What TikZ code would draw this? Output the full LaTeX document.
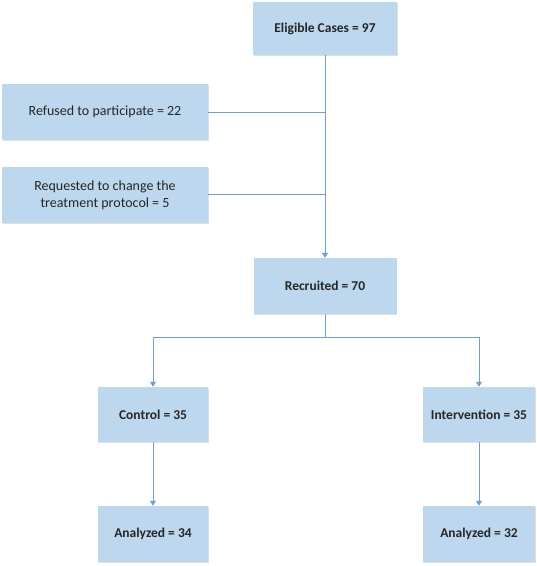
\documentclass[tikz,border=0pt]{standalone}
\usepackage{fontspec}
\setmainfont{Carlito}
\usetikzlibrary{arrows.meta,shadows}
\definecolor{boxfill}{HTML}{BDD7EE}
\definecolor{linec}{HTML}{6E9FD3}
\definecolor{txt}{HTML}{262626}
\begin{document}
\begin{tikzpicture}[x=1pt,y=-1pt,
  box/.style={draw=none,fill=boxfill,inner sep=0pt,align=center,text=txt,font=\fontsize{14}{17}\selectfont,
    drop shadow={opacity=0.25,shadow xshift=0.8pt,shadow yshift=-1.2pt,fill=gray}},
  bbox/.style={box,font=\fontsize{13.5}{16}\selectfont\bfseries},
  conn/.style={draw=linec,line width=0.8pt},
  arr/.style={conn,-{Triangle[width=6pt,length=5pt]}}]
\useasboundingbox (0,0) rectangle (537,566);
\node[bbox,minimum width=144pt,minimum height=53pt] (elig) at (325,28.5) {Eligible Cases = 97};
\node[box,minimum width=206pt,minimum height=56pt] (ref) at (105,112) {Refused to participate = 22};
\node[box,minimum width=206pt,minimum height=56pt] (req) at (105,195) {Requested to change the\\treatment protocol = 5};
\node[bbox,minimum width=143pt,minimum height=56pt] (rec) at (325,286) {Recruited = 70};
\node[bbox,minimum width=110pt,minimum height=55pt] (ctl) at (153,414.5) {Control = 35};
\node[bbox,minimum width=112pt,minimum height=55pt] (int) at (479,414.5) {Intervention = 35};
\node[bbox,minimum width=110pt,minimum height=56pt] (an1) at (153,534) {Analyzed = 34};
\node[bbox,minimum width=112pt,minimum height=56pt] (an2) at (479,534) {Analyzed = 32};
\coordinate (j1) at (325,112);
\coordinate (j2) at (325,194);
\coordinate (split) at (325,337);
\draw[arr] (elig.south) -- (rec.north);
\draw[conn] (ref.east) -- (j1);
\draw[conn] (req.east |- j2) -- (j2);
\draw[conn] (rec.south) -- (split);
\draw[arr] (split) -| (ctl.north);
\draw[arr] (split) -| (int.north);
\draw[arr] (ctl.south) -- (an1.north);
\draw[arr] (int.south) -- (an2.north);
\end{tikzpicture}
\end{document}
